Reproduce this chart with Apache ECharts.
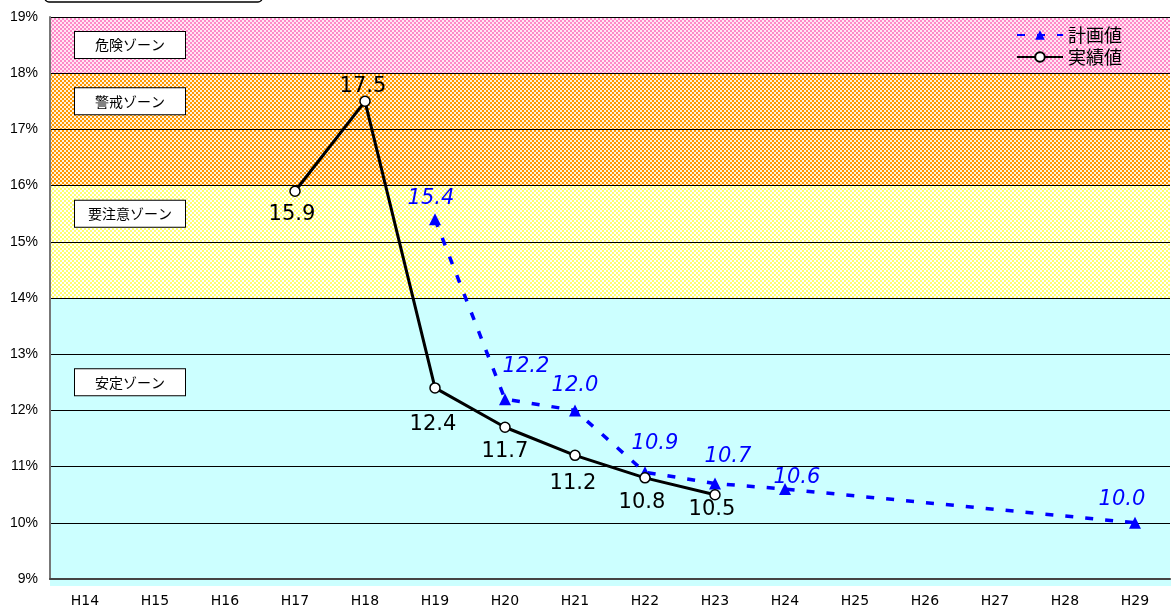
<!DOCTYPE html>
<html>
<head>
<meta charset="utf-8">
<script src="https://cdn.jsdelivr.net/npm/echarts@6/dist/echarts.min.js"></script>
<style>
  html, body { margin: 0; padding: 0; background: #fff; }
  #chart { width: 1171px; height: 611px; }
</style>
</head>
<body>
<div id="chart"></div>
<script>
const years = ['H14', 'H15', 'H16', 'H17', 'H18', 'H19', 'H20', 'H21', 'H22', 'H23', 'H24', 'H25', 'H26', 'H27', 'H28', 'H29']
const actualValues = [null, null, null, 15.9, 17.5, 12.4, 11.7, 11.2, 10.8, 10.5, null, null, null, null, null, null]
const planValues = [null, null, null, null, null, 15.4, 12.2, 12.0, 10.9, 10.7, 10.6, null, null, null, null, 10.0]
// zone bands: [from, to, fill, label]
const zones = [
  [18, 19, 'pink', '危険ゾーン'],
  [17, 18, 'orange', '警戒ゾーン'],
  [16, 17, 'orange', ''],
  [15, 16, 'yellow', '要注意ゾーン'],
  [14, 15, 'yellow', ''],
  [13, 14, 'cyan', ''],
  [12, 13, 'cyan', '安定ゾーン'],
  [9, 12, 'cyan', '']
]

// label offsets per point (picture-read)
const actualOffsets = [null, null, null, [-3, 23], [-2, -15], [-2, 37], [0, 24], [-2, 28], [-3, 25], [-3, 15]]
const planOffsets = [null, null, null, null, null, [-4, -21], [21, -33], [0, -25], [10, -29], [13, -27], [12, -12], null, null, null, null, [-13, -23]]

function makePattern(bg, fg) {
  const c = document.createElement('canvas')
  c.width = 4
  c.height = 4
  const ctx = c.getContext('2d')
  ctx.fillStyle = bg
  ctx.fillRect(0, 0, 4, 4)
  ctx.fillStyle = fg
  ctx.fillRect(0, 0, 2, 2)
  ctx.fillRect(2, 2, 2, 2)
  return { image: c, repeat: 'repeat' }
}

const fills = {
  pink: makePattern('#ffe6f3', '#ff88c8'),
  orange: makePattern('#fff2dc', '#ff9900'),
  yellow: makePattern('#ffffff', '#ffff70'),
  cyan: '#ccffff'
}

const chart = echarts.init(document.getElementById('chart'))

const zoneData = zones.map(function (z) {
  return [{
    yAxis: z[0],
    itemStyle: { color: fills[z[2]] },
    label: {
      show: z[3] !== '',
      formatter: z[3],
      position: 'insideLeft',
      distance: 80,
      color: '#000',
      fontSize: 14,
      fontFamily: 'Noto Sans CJK JP',
      backgroundColor: '#fff',
      borderColor: '#000',
      borderWidth: 1,
      width: 84,
      align: 'center',
      padding: [6, 13, 6, 13]
    }
  }, { yAxis: z[1] }]
})

const option = {
  animation: false,
  grid: { left: 50, right: 1, top: 17, bottom: 32 },
  graphic: [
    { type: 'rect', z: -10, shape: { x: 50, y: 579, width: 1121, height: 7 }, style: { fill: '#ccffff' } },
    { type: 'rect', shape: { x: 45, y: -20, width: 217, height: 22, r: 4 }, style: { fill: '#fff', stroke: '#000', lineWidth: 1.5 } }
  ],
  legend: {
    orient: 'vertical',
    right: 44,
    top: 21,
    itemWidth: 46,
    itemHeight: 12,
    itemGap: 4,
    textStyle: { fontSize: 18, color: '#000', fontFamily: 'Noto Sans CJK JP' },
    data: ['計画値', '実績値']
  },
  xAxis: {
    type: 'category',
    data: years,
    z: 3,
    axisLine: { lineStyle: { color: '#444', width: 2 } },
    axisTick: { inside: true, length: 5, lineStyle: { color: '#444' } },
    axisLabel: { color: '#000', fontSize: 14, margin: 15, fontFamily: 'DejaVu Sans' },
    splitLine: { show: false }
  },
  yAxis: {
    type: 'value',
    min: 9,
    max: 19,
    interval: 1,
    z: 3,
    axisLine: { show: true, lineStyle: { color: '#777', width: 2 } },
    axisTick: { show: false },
    axisLabel: { color: '#000', fontSize: 14, margin: 12, fontFamily: 'Liberation Sans', formatter: '{value}%' },
    splitLine: { lineStyle: { color: '#000', width: 1 } }
  },
  series: [
    {
      name: 'zones',
      type: 'line',
      data: [],
      z: 1,
      silent: true,
      markArea: { silent: true, data: zoneData }
    },
    {
      name: '計画値',
      type: 'line',
      z: 10,
      connectNulls: true,
      data: planValues.map(function (v, i) {
        if (v === null) return null
        return { value: v, label: { offset: planOffsets[i] } }
      }),
      symbol: 'triangle',
      symbolSize: 12,
      itemStyle: { color: '#0000ff' },
      lineStyle: { color: '#0000ff', width: 3.5, type: [8, 12] },
      label: {
        show: true,
        position: 'inside',
        color: '#0000ff',
        fontSize: 21,
        fontStyle: 'italic',
        fontFamily: 'DejaVu Sans',
        formatter: function (p) { return p.value.toFixed(1) }
      }
    },
    {
      name: '実績値',
      type: 'line',
      z: 11,
      data: actualValues.map(function (v, i) {
        if (v === null) return null
        return { value: v, label: { offset: actualOffsets[i] } }
      }),
      symbol: 'circle',
      symbolSize: 10,
      showAllSymbol: true,
      itemStyle: { color: '#fff', borderColor: '#000', borderWidth: 1.5 },
      lineStyle: { color: '#000', width: 3 },
      label: {
        show: true,
        position: 'inside',
        color: '#000',
        fontSize: 21,
        fontFamily: 'DejaVu Sans',
        formatter: function (p) { return p.value.toFixed(1) }
      }
    }
  ]
}

chart.setOption(option)
</script>
</body>
</html>
